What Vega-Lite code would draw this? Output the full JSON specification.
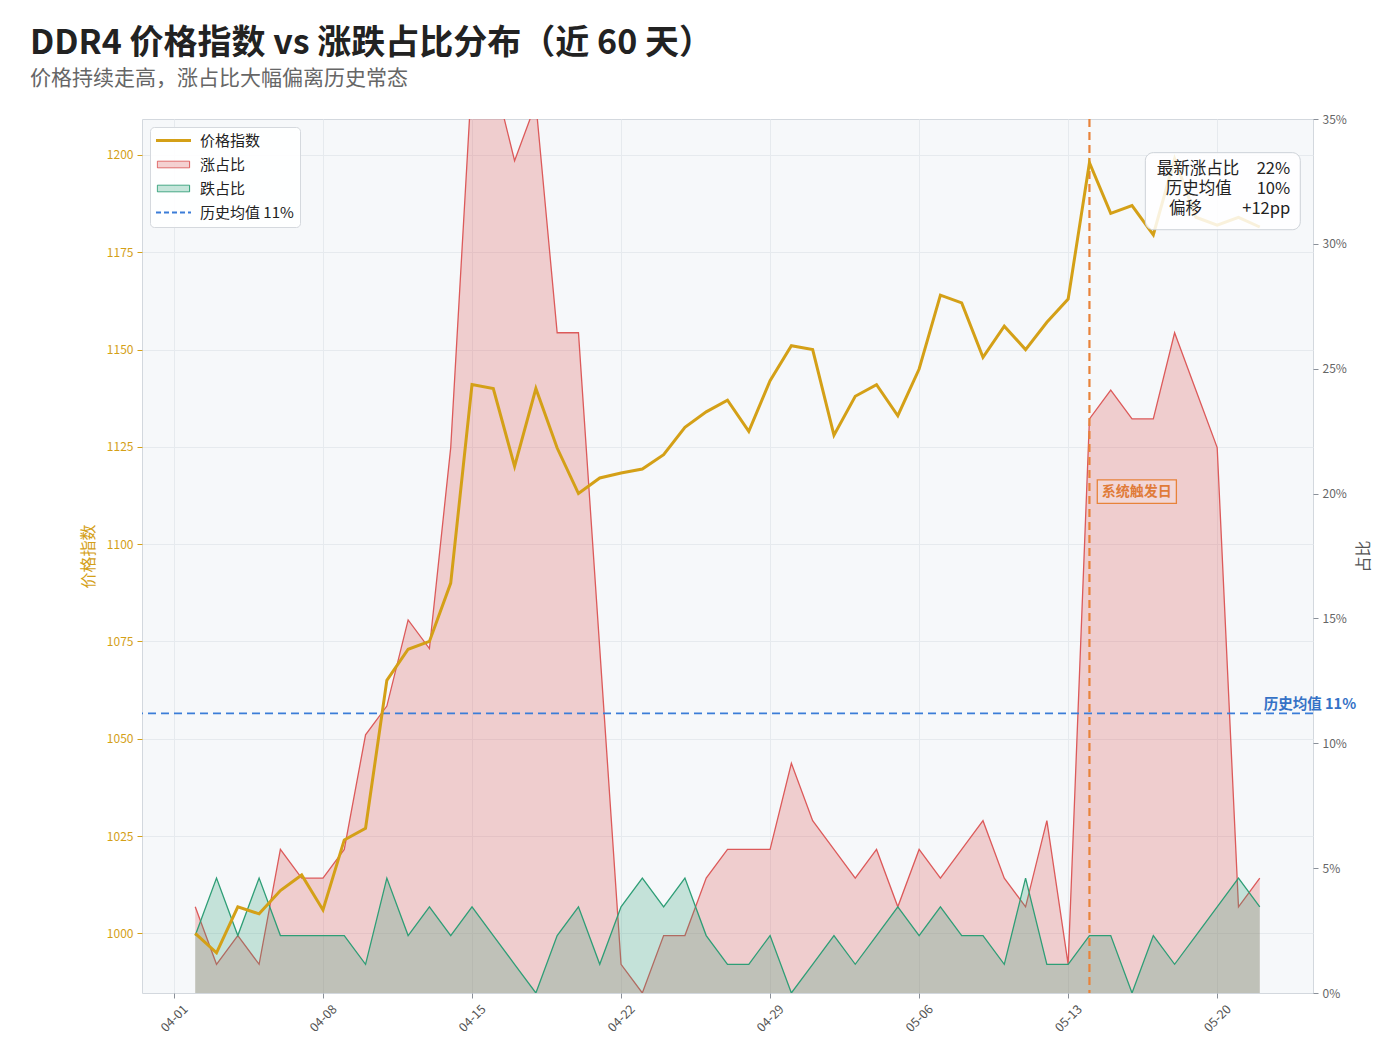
{
  "$schema": "https://vega.github.io/schema/vega-lite/v6.json",
  "width": 1171,
  "height": 874,
  "autosize": {"type": "none"},
  "padding": {"left": 142, "top": 119, "right": 87, "bottom": 71},
  "background": "#ffffff",
  "config": {
    "font": "Noto Sans CJK SC",
    "view": {"fill": "#f6f8fa", "stroke": "#d3d8de"},
    "axis": {"titleFontWeight": "normal", "labelFont": "Noto Sans CJK SC", "titleFont": "Noto Sans CJK SC"}
  },
  "title": {
    "text": "DDR4 价格指数 vs 涨跌占比分布（近 60 天）",
    "subtitle": "价格持续走高，涨占比大幅偏离历史常态",
    "anchor": "start",
    "frame": "group",
    "dx": -112,
    "offset": 24,
    "fontSize": 34,
    "fontWeight": "bold",
    "color": "#222222",
    "subtitleFontSize": 21,
    "subtitleColor": "#666666",
    "subtitlePadding": 7
  },
  "datasets": {
    "daily": [
      {"date": "2025-04-02T00:00", "price": 1000, "up": 0.0345, "down": 0.023},
      {"date": "2025-04-03T00:00", "price": 995, "up": 0.0115, "down": 0.046},
      {"date": "2025-04-04T00:00", "price": 1006.8, "up": 0.023, "down": 0.023},
      {"date": "2025-04-05T00:00", "price": 1005, "up": 0.0115, "down": 0.046},
      {"date": "2025-04-06T00:00", "price": 1011, "up": 0.0575, "down": 0.023},
      {"date": "2025-04-07T00:00", "price": 1015, "up": 0.046, "down": 0.023},
      {"date": "2025-04-08T00:00", "price": 1006, "up": 0.046, "down": 0.023},
      {"date": "2025-04-09T00:00", "price": 1024, "up": 0.0575, "down": 0.023},
      {"date": "2025-04-10T00:00", "price": 1027, "up": 0.1034, "down": 0.0115},
      {"date": "2025-04-11T00:00", "price": 1065, "up": 0.1149, "down": 0.046},
      {"date": "2025-04-12T00:00", "price": 1073, "up": 0.1494, "down": 0.023},
      {"date": "2025-04-13T00:00", "price": 1075, "up": 0.1379, "down": 0.0345},
      {"date": "2025-04-14T00:00", "price": 1090, "up": 0.2184, "down": 0.023},
      {"date": "2025-04-15T00:00", "price": 1141, "up": 0.3678, "down": 0.0345},
      {"date": "2025-04-16T00:00", "price": 1140, "up": 0.3678, "down": 0.023},
      {"date": "2025-04-17T00:00", "price": 1120, "up": 0.3333, "down": 0.0115},
      {"date": "2025-04-18T00:00", "price": 1140, "up": 0.3563, "down": 0},
      {"date": "2025-04-19T00:00", "price": 1124.7, "up": 0.2644, "down": 0.023},
      {"date": "2025-04-20T00:00", "price": 1113, "up": 0.2644, "down": 0.0345},
      {"date": "2025-04-21T00:00", "price": 1117, "up": 0.1379, "down": 0.0115},
      {"date": "2025-04-22T00:00", "price": 1118.3, "up": 0.0115, "down": 0.0345},
      {"date": "2025-04-23T00:00", "price": 1119.3, "up": 0, "down": 0.046},
      {"date": "2025-04-24T00:00", "price": 1123, "up": 0.023, "down": 0.0345},
      {"date": "2025-04-25T00:00", "price": 1130, "up": 0.023, "down": 0.046},
      {"date": "2025-04-26T00:00", "price": 1134, "up": 0.046, "down": 0.023},
      {"date": "2025-04-27T00:00", "price": 1137, "up": 0.0575, "down": 0.0115},
      {"date": "2025-04-28T00:00", "price": 1129, "up": 0.0575, "down": 0.0115},
      {"date": "2025-04-29T00:00", "price": 1142, "up": 0.0575, "down": 0.023},
      {"date": "2025-04-30T00:00", "price": 1151, "up": 0.092, "down": 0},
      {"date": "2025-05-01T00:00", "price": 1150, "up": 0.069, "down": 0.0115},
      {"date": "2025-05-02T00:00", "price": 1128, "up": 0.0575, "down": 0.023},
      {"date": "2025-05-03T00:00", "price": 1138, "up": 0.046, "down": 0.0115},
      {"date": "2025-05-04T00:00", "price": 1141, "up": 0.0575, "down": 0.023},
      {"date": "2025-05-05T00:00", "price": 1133, "up": 0.0345, "down": 0.0345},
      {"date": "2025-05-06T00:00", "price": 1145, "up": 0.0575, "down": 0.023},
      {"date": "2025-05-07T00:00", "price": 1164, "up": 0.046, "down": 0.0345},
      {"date": "2025-05-08T00:00", "price": 1162, "up": 0.0575, "down": 0.023},
      {"date": "2025-05-09T00:00", "price": 1148, "up": 0.069, "down": 0.023},
      {"date": "2025-05-10T00:00", "price": 1156, "up": 0.046, "down": 0.0115},
      {"date": "2025-05-11T00:00", "price": 1150, "up": 0.0345, "down": 0.046},
      {"date": "2025-05-12T00:00", "price": 1157, "up": 0.069, "down": 0.0115},
      {"date": "2025-05-13T00:00", "price": 1163, "up": 0.0115, "down": 0.0115},
      {"date": "2025-05-14T00:00", "price": 1198, "up": 0.2299, "down": 0.023},
      {"date": "2025-05-15T00:00", "price": 1185, "up": 0.2414, "down": 0.023},
      {"date": "2025-05-16T00:00", "price": 1187, "up": 0.2299, "down": 0},
      {"date": "2025-05-17T00:00", "price": 1179.5, "up": 0.2299, "down": 0.023},
      {"date": "2025-05-18T00:00", "price": 1199, "up": 0.2644, "down": 0.0115},
      {"date": "2025-05-19T00:00", "price": 1184, "up": 0.2414, "down": 0.023},
      {"date": "2025-05-20T00:00", "price": 1182, "up": 0.2184, "down": 0.0345},
      {"date": "2025-05-21T00:00", "price": 1184, "up": 0.0345, "down": 0.046},
      {"date": "2025-05-22T00:00", "price": 1181.5, "up": 0.046, "down": 0.0345}
    ],
    "one": [{}]
  },
  "layer": [
    {
      "data": {"name": "daily"},
      "layer": [
        {
          "mark": {"type": "area", "color": "#dc5a5a", "fillOpacity": 0.27, "clip": true},
          "encoding": {
            "x": {
              "field": "date", "type": "temporal",
              "scale": {"domain": [{"year": 2025, "month": 3, "date": 30, "hours": 12}, {"year": 2025, "month": 5, "date": 24, "hours": 12}]},
              "axis": {
                "title": null,
                "format": "%m-%d",
                "values": [
                  {"year": 2025, "month": 4, "date": 1}, {"year": 2025, "month": 4, "date": 8},
                  {"year": 2025, "month": 4, "date": 15}, {"year": 2025, "month": 4, "date": 22},
                  {"year": 2025, "month": 4, "date": 29}, {"year": 2025, "month": 5, "date": 6},
                  {"year": 2025, "month": 5, "date": 13}, {"year": 2025, "month": 5, "date": 20}
                ],
                "labelAngle": -45, "labelAlign": "center", "labelBaseline": "middle",
                "labelPadding": 20, "labelFontSize": 12.5, "labelColor": "#555555",
                "tickSize": 5, "tickColor": "#8a9099", "domain": false,
                "grid": true, "gridColor": "#e6eaee"
              }
            },
            "y": {
              "field": "up", "type": "quantitative",
              "scale": {"domain": [0, 0.35], "nice": false, "zero": true},
              "axis": {
                "orient": "right", "title": "占比", "titleAngle": 270, "titleColor": "#555555",
                "titleFontSize": 16, "titlePadding": 25,
                "values": [0, 0.05, 0.1, 0.15, 0.2, 0.25, 0.3, 0.35], "format": ".0%",
                "labelFontSize": 12, "labelColor": "#666666", "labelPadding": 4,
                "tickSize": 5, "tickColor": "#8a9099", "domain": false, "grid": false
              }
            }
          }
        },
        {
          "mark": {"type": "line", "color": "#dc5a5a", "strokeWidth": 1.3, "clip": true},
          "encoding": {
            "x": {"field": "date", "type": "temporal"},
            "y": {"field": "up", "type": "quantitative"}
          }
        },
        {
          "mark": {"type": "area", "color": "#2e9e76", "fillOpacity": 0.25, "clip": true},
          "encoding": {
            "x": {"field": "date", "type": "temporal"},
            "y": {"field": "down", "type": "quantitative"}
          }
        },
        {
          "mark": {"type": "line", "color": "#2e9e76", "strokeWidth": 1.3, "clip": true},
          "encoding": {
            "x": {"field": "date", "type": "temporal"},
            "y": {"field": "down", "type": "quantitative"}
          }
        },
        {
          "data": {"name": "one"},
          "mark": {"type": "rule", "color": "#3b7dd8", "strokeWidth": 1.8, "strokeDash": [8, 5]},
          "encoding": {"y": {"datum": 0.112}}
        },
        {
          "data": {"name": "one"},
          "mark": {"type": "text", "text": "历史均值 11%", "color": "#3572c6", "fontSize": 14.5, "fontWeight": "bold", "align": "left", "baseline": "middle", "dx": 4, "dy": -8},
          "encoding": {
            "x": {"datum": {"year": 2025, "month": 5, "date": 22}, "type": "temporal"},
            "y": {"datum": 0.112}
          }
        },
        {
          "data": {"name": "one"},
          "mark": {"type": "rule", "color": "#e8833a", "strokeWidth": 2.2, "strokeDash": [8, 5]},
          "encoding": {"x": {"datum": {"year": 2025, "month": 5, "date": 14}, "type": "temporal"}}
        },
        {
          "data": {"name": "one"},
          "mark": {"type": "rect", "fill": "#ffffff", "fillOpacity": 0.2, "stroke": "#e8833a", "strokeWidth": 1.3},
          "encoding": {
            "x": {"datum": {"year": 2025, "month": 5, "date": 14, "hours": 8, "minutes": 50}, "type": "temporal"},
            "x2": {"datum": {"year": 2025, "month": 5, "date": 18, "hours": 2}},
            "y": {"datum": 0.2055},
            "y2": {"datum": 0.1961}
          }
        },
        {
          "data": {"name": "one"},
          "mark": {"type": "text", "text": "系统触发日", "color": "#e07b39", "fontSize": 14, "fontWeight": "bold", "align": "center", "baseline": "middle"},
          "encoding": {
            "x": {"datum": {"year": 2025, "month": 5, "date": 16, "hours": 5, "minutes": 25}, "type": "temporal"},
            "y": {"datum": 0.2008}
          }
        }
      ]
    },
    {
      "layer": [
        {
          "data": {"name": "daily"},
          "mark": {"type": "line", "strokeWidth": 3},
          "encoding": {
            "x": {"field": "date", "type": "temporal"},
            "y": {
              "field": "price", "type": "quantitative",
              "scale": {"domain": [984.66, 1209.25], "nice": false, "zero": false},
              "axis": {
                "orient": "left", "title": "价格指数", "titleColor": "#D4A017", "titleFontSize": 16, "titlePadding": 10,
                "values": [1000, 1025, 1050, 1075, 1100, 1125, 1150, 1175, 1200], "format": "d",
                "labelFontSize": 12, "labelColor": "#D4A017", "labelPadding": 4,
                "tickSize": 5, "tickColor": "#D4A017", "domain": false,
                "grid": true, "gridColor": "#e6eaee"
              }
            },
            "color": {
              "datum": "价格指数", "type": "nominal",
              "scale": {"domain": ["价格指数", "涨占比", "跌占比", "历史均值 11%"], "range": ["#D4A017", "#dc5a5a", "#2e9e76", "#3b7dd8"]},
              "legend": {
                "title": null, "orient": "none", "legendX": 8, "legendY": 8,
                "fillColor": "rgba(255,255,255,0.9)", "strokeColor": "#d5d9de", "cornerRadius": 4, "padding": 6,
                "labelFontSize": 15, "labelColor": "#222222", "labelOffset": 19,
                "symbolSize": 196, "symbolOffset": 10, "rowPadding": 8,
                "encode": {
                  "symbols": {
                    "update": {
                      "shape": {"signal": "datum.value === '涨占比' || datum.value === '跌占比' ? 'M-2.3,-0.47H2.3V0.47H-2.3Z' : 'M-2.5,0H2.5'"},
                      "fill": {"signal": "datum.value === '涨占比' ? 'rgba(220,90,90,0.28)' : datum.value === '跌占比' ? 'rgba(46,158,118,0.27)' : 'transparent'"},
                      "stroke": {"signal": "datum.value === '价格指数' ? '#D4A017' : datum.value === '涨占比' ? 'rgba(220,90,90,0.3)' : datum.value === '跌占比' ? 'rgba(46,158,118,0.3)' : '#3b7dd8'"},
                      "strokeWidth": {"signal": "datum.value === '价格指数' ? 3 : datum.value === '历史均值 11%' ? 1.8 : 1"},
                      "strokeDash": {"signal": "datum.value === '历史均值 11%' ? [5, 3] : [1, 0]"},
                      "opacity": {"value": 1},
                      "fillOpacity": {"value": 1},
                      "strokeOpacity": {"value": 1}
                    }
                  }
                }
              }
            }
          }
        },
        {
          "data": {"name": "one"},
          "mark": {"type": "rect", "fill": "#ffffff", "fillOpacity": 0.85, "stroke": "#cdd2d8", "strokeWidth": 1, "cornerRadius": 8},
          "encoding": {
            "x": {"datum": {"year": 2025, "month": 5, "date": 16, "hours": 15}, "type": "temporal"},
            "x2": {"datum": {"year": 2025, "month": 5, "date": 23, "hours": 21, "minutes": 40}},
            "y": {"datum": 1200.6},
            "y2": {"datum": 1180.8}
          }
        },
        {
          "data": {"name": "one"},
          "mark": {"type": "text", "text": "最新涨占比", "fontSize": 16.5, "color": "#222222", "align": "center", "baseline": "middle"},
          "encoding": {
            "x": {"datum": {"year": 2025, "month": 5, "date": 19, "hours": 2, "minutes": 24}, "type": "temporal"},
            "y": {"datum": 1196.35}
          }
        },
        {
          "data": {"name": "one"},
          "mark": {"type": "text", "text": "历史均值", "fontSize": 16.5, "color": "#222222", "align": "center", "baseline": "middle"},
          "encoding": {
            "x": {"datum": {"year": 2025, "month": 5, "date": 19, "hours": 3, "minutes": 20}, "type": "temporal"},
            "y": {"datum": 1191.3}
          }
        },
        {
          "data": {"name": "one"},
          "mark": {"type": "text", "text": "偏移", "fontSize": 16.5, "color": "#222222", "align": "center", "baseline": "middle"},
          "encoding": {
            "x": {"datum": {"year": 2025, "month": 5, "date": 18, "hours": 12, "minutes": 25}, "type": "temporal"},
            "y": {"datum": 1186.1}
          }
        },
        {
          "data": {"name": "one"},
          "mark": {"type": "text", "text": "22%", "fontSize": 16.5, "color": "#222222", "align": "right", "baseline": "middle"},
          "encoding": {
            "x": {"datum": {"year": 2025, "month": 5, "date": 23, "hours": 10, "minutes": 20}, "type": "temporal"},
            "y": {"datum": 1196.35}
          }
        },
        {
          "data": {"name": "one"},
          "mark": {"type": "text", "text": "10%", "fontSize": 16.5, "color": "#222222", "align": "right", "baseline": "middle"},
          "encoding": {
            "x": {"datum": {"year": 2025, "month": 5, "date": 23, "hours": 10, "minutes": 20}, "type": "temporal"},
            "y": {"datum": 1191.3}
          }
        },
        {
          "data": {"name": "one"},
          "mark": {"type": "text", "text": "+12pp", "fontSize": 16.5, "color": "#222222", "align": "right", "baseline": "middle"},
          "encoding": {
            "x": {"datum": {"year": 2025, "month": 5, "date": 23, "hours": 10, "minutes": 20}, "type": "temporal"},
            "y": {"datum": 1186.1}
          }
        }
      ]
    }
  ],
  "resolve": {"scale": {"y": "independent"}}
}
